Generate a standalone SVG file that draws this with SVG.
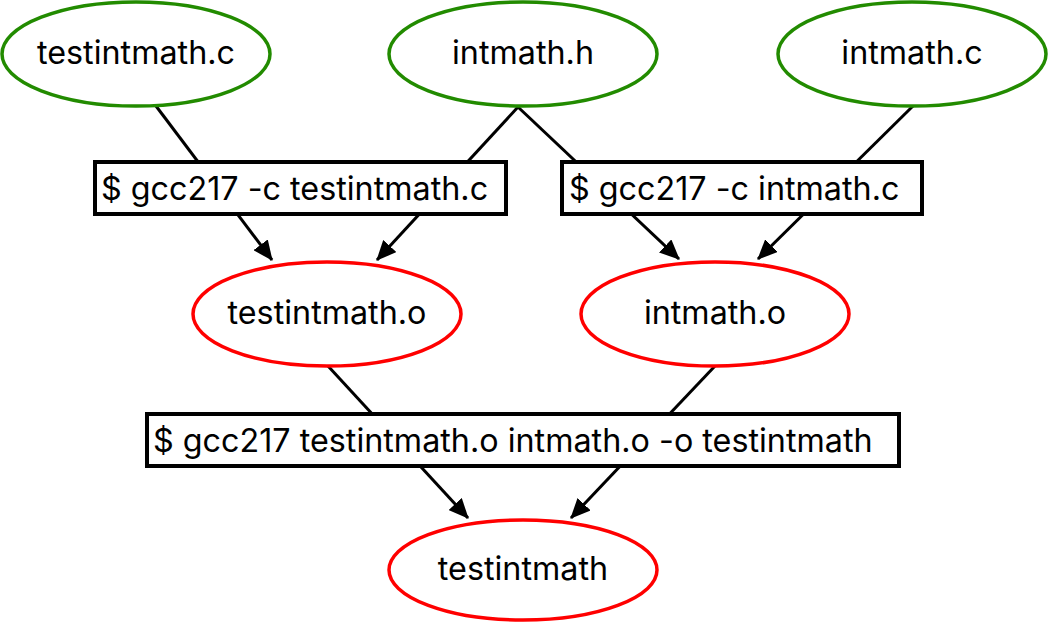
<svg xmlns="http://www.w3.org/2000/svg" width="1048" height="624" viewBox="0 0 1048 624">
<style>
.src{fill:#fff;stroke:#228b00;stroke-width:3.5}
.obj{fill:#fff;stroke:#ff0000;stroke-width:3.5}
.cmd{fill:#fff;stroke:#000;stroke-width:4}
.edge{stroke:#000;stroke-width:3;fill:none}
text{font-family:Inter,"Noto Sans",sans-serif;font-size:32.3px;fill:#000}
.c{text-anchor:middle}
</style>
<defs>
<marker id="ah" markerWidth="20" markerHeight="18" refX="19" refY="9" orient="auto" markerUnits="userSpaceOnUse">
<path d="M0,0 L20,9 L0,18 Z" fill="#000"/>
</marker>
</defs>
<g id="connectors">
<line class="edge" x1="156" y1="106" x2="272" y2="260" marker-end="url(#ah)"/>
<line class="edge" x1="518" y1="107" x2="377" y2="260" marker-end="url(#ah)"/>
<line class="edge" x1="518" y1="107" x2="679" y2="259" marker-end="url(#ah)"/>
<line class="edge" x1="913" y1="106" x2="758" y2="259" marker-end="url(#ah)"/>
<line class="edge" x1="328" y1="366" x2="468" y2="518" marker-end="url(#ah)"/>
<line class="edge" x1="715" y1="366" x2="571" y2="518" marker-end="url(#ah)"/>
</g>
<g id="testintmath_c"><ellipse class="src" cx="136" cy="54" rx="134" ry="52"/><text class="c" x="136" y="64">testintmath.c</text></g>
<g id="intmath_h"><ellipse class="src" cx="523" cy="54" rx="134" ry="52"/><text class="c" x="523" y="64">intmath.h</text></g>
<g id="intmath_c"><ellipse class="src" cx="912" cy="54" rx="134" ry="52"/><text class="c" x="912" y="64">intmath.c</text></g>
<g id="cmd1"><rect class="cmd" x="95" y="162" width="411" height="52"/><text x="101" y="200">$ gcc217 -c testintmath.c</text></g>
<g id="cmd2"><rect class="cmd" x="562" y="162" width="360" height="52"/><text x="569" y="200">$ gcc217 -c intmath.c</text></g>
<g id="testintmath_o"><ellipse class="obj" cx="327" cy="314" rx="134" ry="52"/><text class="c" x="327" y="324">testintmath.o</text></g>
<g id="intmath_o"><ellipse class="obj" cx="715" cy="314" rx="134" ry="52"/><text class="c" x="715" y="324">intmath.o</text></g>
<g id="cmd3"><rect class="cmd" x="147" y="414" width="752" height="52"/><text x="153" y="452">$ gcc217 testintmath.o intmath.o -o testintmath</text></g>
<g id="testintmath"><ellipse class="obj" cx="523" cy="570" rx="134" ry="50"/><text class="c" x="523" y="580">testintmath</text></g>
</svg>
